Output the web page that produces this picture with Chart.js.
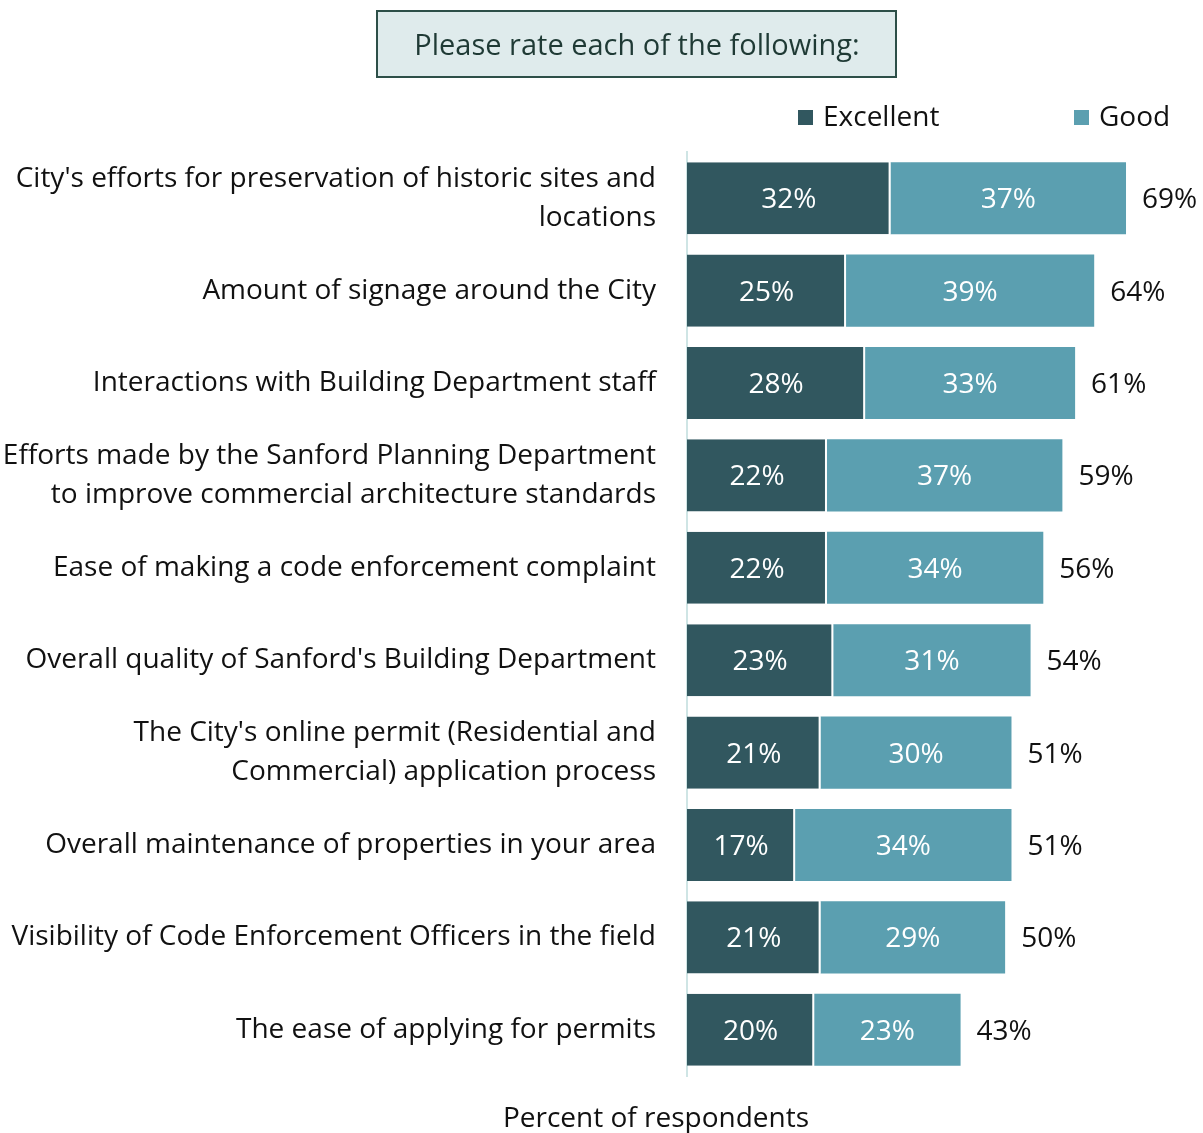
<!DOCTYPE html>
<html>
<head>
<meta charset="utf-8">
<script src="https://cdn.jsdelivr.net/npm/chart.js@4.4.1/dist/chart.umd.min.js"></script>
<style>
  html, body { margin: 0; padding: 0; background: #fff; overflow: hidden; }
  canvas { display: block; }
</style>
</head>
<body>
<canvas id="myChart" width="1203" height="1133"></canvas>
<script>
const categories = [
  ["City's efforts for preservation of historic sites and", "locations"],
  "Amount of signage around the City",
  "Interactions with Building Department staff",
  ["Efforts made by the Sanford Planning Department", "to improve commercial architecture standards"],
  "Ease of making a code enforcement complaint",
  "Overall quality of Sanford's Building Department",
  ["The City's online permit (Residential and", "Commercial) application process"],
  "Overall maintenance of properties in your area",
  "Visibility of Code Enforcement Officers in the field",
  "The ease of applying for permits"
];
const excellent = [32, 25, 28, 22, 22, 23, 21, 17, 21, 20];
const good = [37, 39, 33, 37, 34, 31, 30, 34, 29, 23];
const seriesNames = ["Excellent", "Good"];

const FONT = "'Open Sans', 'Noto Sans', sans-serif";
const darkCol = "#31575f";
const lightCol = "#5b9fb0";

// title box, legend, value labels, axis title
const extras = {
  id: "extras",
  afterDatasetsDraw(chart) {
    const ctx = chart.ctx;
    ctx.save();
    // title box
    ctx.fillStyle = "#dfebec";
    ctx.fillRect(377, 11, 519, 66);
    ctx.strokeStyle = "#2d4f48";
    ctx.lineWidth = 2;
    ctx.strokeRect(377, 11, 519, 66);
    ctx.fillStyle = "#1f3a35";
    ctx.font = "29px " + FONT;
    ctx.textAlign = "center";
    ctx.textBaseline = "middle";
    ctx.fillText("Please rate each of the following:", 637, 47);

    // legend
    ctx.font = "28px " + FONT;
    const legendX = [798, 1074];
    chart.data.datasets.forEach((ds, i) => {
      ctx.fillStyle = ds.backgroundColor;
      ctx.fillRect(legendX[i], 110, 15, 15);
      ctx.fillStyle = "#111";
      ctx.textAlign = "left";
      ctx.fillText(ds.label, legendX[i] + 25, 118);
    });

    // segment labels
    chart.data.datasets.forEach((ds, i) => {
      const meta = chart.getDatasetMeta(i);
      meta.data.forEach((bar, j) => {
        ctx.fillStyle = "#fff";
        ctx.textAlign = "center";
        ctx.fillText(ds.data[j] + "%", (bar.x + bar.base) / 2, bar.y + 2);
      });
    });

    // totals
    const last = chart.getDatasetMeta(1);
    last.data.forEach((bar, j) => {
      const total = excellent[j] + good[j];
      ctx.fillStyle = "#111";
      ctx.textAlign = "left";
      ctx.fillText(total + "%", bar.x + 16, bar.y + 2);
    });

    // axis title
    ctx.textAlign = "center";
    ctx.fillText("Percent of respondents", 656, 1119);
    ctx.restore();
  }
};

const chartData = {
  labels: categories,
  datasets: [
    {
      label: seriesNames[0],
      data: excellent,
      backgroundColor: darkCol,
      borderColor: "#ffffff",
      borderWidth: { right: 2, left: 0, top: 0, bottom: 0 },
      borderSkipped: false,
      barPercentage: 0.78,
      categoryPercentage: 1
    },
    {
      label: seriesNames[1],
      data: good,
      backgroundColor: lightCol,
      borderWidth: 0,
      barPercentage: 0.78,
      categoryPercentage: 1
    }
  ]
};

const myChart = new Chart(document.getElementById("myChart"), {
  type: "bar",
  data: chartData,
  options: {
    indexAxis: "y",
    responsive: false,
    animation: false,
    layout: { padding: { top: 152, bottom: 57, right: 7, left: 0 } },
    plugins: {
      legend: { display: false },
      tooltip: { enabled: false }
    },
    scales: {
      x: {
        stacked: true,
        min: 0,
        max: 80,
        display: false
      },
      y: {
        stacked: true,
        grid: { display: false, drawTicks: false },
        border: { display: true, color: "#cfe5e5", width: 2 },
        ticks: {
          color: "#111",
          padding: 31,
          font: { family: FONT, size: 28, lineHeight: 1.39 }
        },
        afterFit(scale) {
          scale.width = 687;
          scale.paddingTop = 0;
          scale.paddingBottom = 0;
        }
      }
    }
  },
  plugins: [extras]
});
</script>
</body>
</html>
